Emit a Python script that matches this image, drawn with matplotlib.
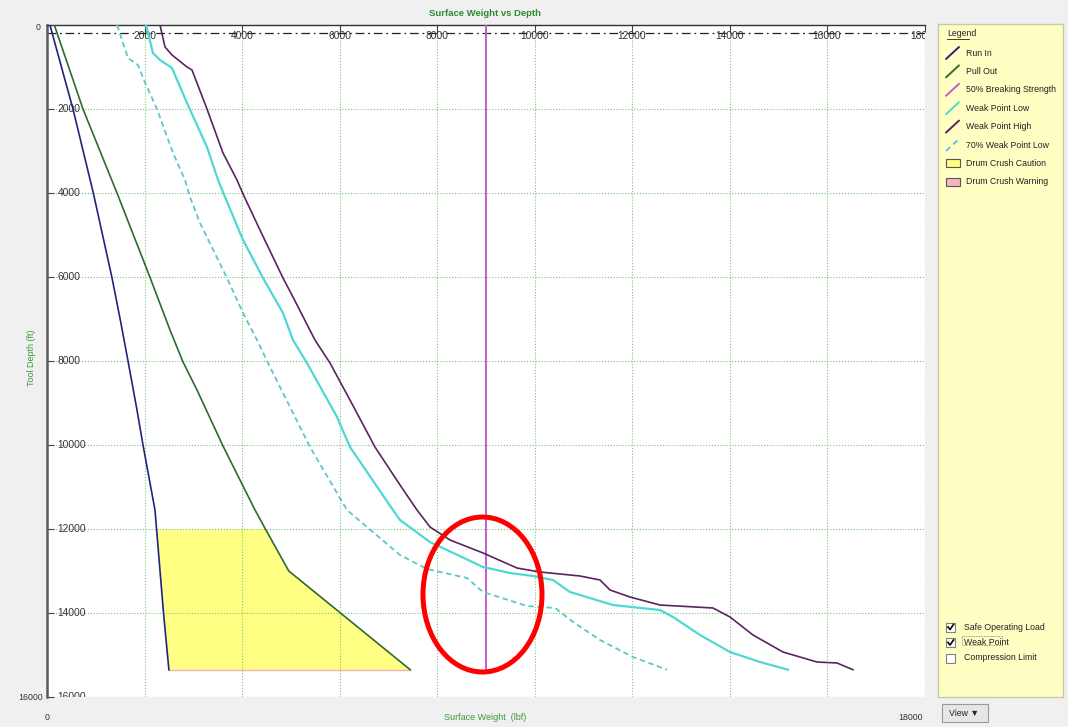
import numpy as np
import matplotlib
matplotlib.use('Agg')
import matplotlib.pyplot as plt
from matplotlib.patches import Rectangle, Ellipse

W, H = 1068, 727

# tool depth (ft) / surface weight (lbf)
run_in_depth = [0, 2000, 4000, 6000, 7000, 8000, 9167, 10000, 11548, 14000, 15350]
run_in_load = [60, 533, 950, 1330, 1500, 1662, 1846, 1969, 2215, 2390, 2500]

pull_out_depth = [0, 2000, 4000, 6000, 7262, 8024, 8690, 10024, 11548, 12000, 13000, 15350]
pull_out_load = [150, 738, 1436, 2110, 2523, 2790, 3077, 3610, 4267, 4480, 4960, 7450]

wp_low_depth = [0, 667, 833, 1024, 1857, 2905, 3690, 4095, 5119, 6024, 6857, 7500, 8048, 9333,
                10048, 11548, 11786, 12310, 12905, 13048, 13119, 13214, 13500, 13810, 13929,
                14095, 14524, 14929, 15167, 15350]
wp_low_load = [2031, 2174, 2318, 2564, 2872, 3282, 3508, 3651, 4021, 4431, 4841, 5046, 5333, 5949,
               6215, 7097, 7241, 7856, 8944, 9497, 9969, 10379, 10728, 11610, 12574,
               12841, 13395, 14010, 14626, 15200]

wp_high_depth = [0, 524, 714, 1000, 1071, 2000, 3048, 3690, 4024, 4881, 6024, 6476, 7500, 8048,
                 8929, 10048, 10952, 11548, 11952, 12262, 12571, 12929, 13024, 13119, 13214,
                 13452, 13619, 13810, 13881, 14095, 14524, 14929, 15167, 15190, 15350]
wp_high_load = [2318, 2421, 2564, 2872, 2974, 3282, 3610, 3897, 4021, 4369, 4841, 5046, 5497, 5805,
                6215, 6728, 7241, 7590, 7856, 8267, 8944, 9641, 10113, 10933, 11344,
                11549, 11959, 12574, 13662, 14010, 14482, 15097, 15795, 16205, 16533]

wp70_depth = [0, 786, 952, 1262, 2000, 3048, 3690, 4095, 4714, 6024, 6857, 7500, 8048, 9095,
              10048, 11548, 12619, 12952, 13167, 13500, 13833, 13881, 14214, 14643, 15048, 15350]
wp70_load = [1436, 1662, 1867, 1969, 2256, 2585, 2831, 2933, 3138, 3692, 4021, 4308, 4533, 4985,
             5395, 6154, 7241, 7795, 8615, 8944, 9846, 10421, 10790, 11344, 12021, 12718]

breaking_load = 9000
breaking_depth = [0, 15350]
caution_top = 12000
tool_bottom = 15350

x_ticks = list(range(2000, 18001, 2000))
y_ticks = list(range(2000, 16001, 2000))

legend_names = ['Run In', 'Pull Out', '50% Breaking Strength', 'Weak Point Low',
                'Weak Point High', '70% Weak Point Low', 'Drum Crush Caution', 'Drum Crush Warning']
option_names = ['Safe Operating Load', 'Weak Point', 'Compression Limit']
option_checked = [True, True, False]

# circled area (annotation)
ring_center = (8933, 13560)
ring_size = (2441, 3690)

c_run = '#23237f'
c_pull = '#2e6b2e'
c_break = '#c45ccf'
c_low = '#4fd8d2'
c_high = '#5b2360'
c_70 = '#5ec6cc'
c_text = '#3a9a3a'

plt.rcParams['font.family'] = ['Liberation Sans', 'DejaVu Sans']
fs = 6.3
fs_tick = 7.4


def fx(px):
    return px / W


def fy(py):
    return 1 - py / H


fig = plt.figure(figsize=(W / 100, H / 100), dpi=100)
fig.patch.set_facecolor('#f0f0f0')

ax = fig.add_axes([fx(47), fy(697), (924.5 - 47) / W, (697 - 25) / H])
ax.set_xlim(0, 18000)
ax.set_ylim(16000, 0)
ax.set_facecolor('white')

# drum crush caution zone between run in and pull out
dd = np.linspace(caution_top, tool_bottom, 60)
ax.fill_betweenx(dd, np.interp(dd, run_in_depth, run_in_load),
                 np.interp(dd, pull_out_depth, pull_out_load),
                 color='#ffff84', lw=0, zorder=1)
ax.plot([run_in_load[-1], pull_out_load[-1]], [tool_bottom, tool_bottom],
        color='#f0b0b8', lw=1, zorder=1.5)

ax.plot(run_in_load, run_in_depth, color=c_run, lw=1.2, zorder=3)
ax.plot(pull_out_load, pull_out_depth, color=c_pull, lw=1.2, zorder=3)
ax.plot([breaking_load, breaking_load], breaking_depth, color=c_break, lw=1.4, zorder=3)
ax.plot(wp_low_load, wp_low_depth, color=c_low, lw=1.6, zorder=3)
ax.plot(wp_high_load, wp_high_depth, color=c_high, lw=1.2, zorder=3)
ax.plot(wp70_load, wp70_depth, color=c_70, lw=1.3, ls=(0, (3, 2)), zorder=3)

# dash-dot surface line near top
ax.axhline(190, color='#222222', lw=0.9, ls=(0, (7, 3, 1.5, 3)), zorder=2)

ax.set_xticks(x_ticks)
ax.set_yticks(y_ticks)
ax.tick_params(direction='in', length=5, width=0.8, color='#444444', top=True, bottom=False,
               right=False, left=True, labelleft=False, labelbottom=False)
ax.grid(True, color='#7cc47c', ls=(0, (1, 1.6)), lw=0.8)
for s in ['right', 'bottom']:
    ax.spines[s].set_visible(False)
ax.spines['left'].set_color('#5a5a5a')
ax.spines['left'].set_linewidth(1.8)
ax.spines['top'].set_color('#333333')
ax.spines['top'].set_linewidth(1.0)

for x in x_ticks:
    ax.text(x, 262, str(x), ha='center', va='center', fontsize=fs_tick, color='#333333',
            clip_on=True, zorder=2.5)
for d in y_ticks:
    ax.text(215, d, str(d), ha='left', va='center', fontsize=fs_tick, color='#333333',
            clip_on=True, zorder=2.5)

ax.add_patch(Ellipse(ring_center, ring_size[0], ring_size[1], fill=False, edgecolor='#ff0000',
                     lw=3.6, zorder=6, clip_on=False))

# outer labels
fig.text(fx(485), fy(13), 'Surface Weight vs Depth', ha='center', va='center', fontsize=6.8,
         fontweight='bold', color='#2e8b2e')
fig.text(fx(41), fy(28), '0', ha='right', va='center', fontsize=fs, color='#333333')
fig.text(fx(43), fy(697), '16000', ha='right', va='center', fontsize=fs, color='#333333')
fig.text(fx(47), fy(718), '0', ha='center', va='center', fontsize=fs, color='#333333')
fig.text(fx(923), fy(718), '18000', ha='right', va='center', fontsize=fs, color='#333333')
fig.text(fx(485), fy(718), 'Surface Weight  (lbf)', ha='center', va='center', fontsize=6.5, color=c_text)
fig.text(fx(31), fy(358), 'Tool Depth (ft)', ha='center', va='center', fontsize=6.5, color=c_text,
         rotation=90)

# legend panel
lg = fig.add_axes([fx(938), fy(697), 125 / W, 673 / H])
lg.set_xlim(0, 125)
lg.set_ylim(673, 0)
lg.set_facecolor('#ffffc4')
lg.set_xticks([])
lg.set_yticks([])
for s in lg.spines.values():
    s.set_color('#c8c8b0')
    s.set_linewidth(1)

lg.text(9, 10, 'Legend', ha='left', va='center', fontsize=fs, color='#222222')
lg.plot([9, 31], [14.5, 14.5], color='#222222', lw=0.6)

line_styles = [(c_run, '-'), (c_pull, '-'), (c_break, '-'), (c_low, '-'), (c_high, '-'), (c_70, (0, (3, 2)))]
for i, name in enumerate(legend_names):
    y = 29 + i * 18.4
    if i < len(line_styles):
        col, ls = line_styles[i]
        lg.plot([8, 21], [y + 6, y - 6], color=col, lw=1.4, ls=ls, solid_capstyle='round')
    else:
        face = '#ffff80' if name.endswith('Caution') else '#f4b4c0'
        lg.add_patch(Rectangle((8, y - 4), 14, 8, facecolor=face, edgecolor='#555555', lw=0.8))
    lg.text(28, y, name, ha='left', va='center', fontsize=fs, color='#222222')

for i, name in enumerate(option_names):
    y = 603 + i * 15.5
    lg.add_patch(Rectangle((8, y - 4.5), 9, 9, facecolor='white', edgecolor='#808080', lw=0.8))
    if option_checked[i]:
        lg.plot([10, 12, 15.5], [y, y + 2.5, y - 2.5], color='#111111', lw=1.3)
    lg.text(26, y, name, ha='left', va='center', fontsize=fs, color='#222222')
lg.add_patch(Rectangle((24, 611.5), 40, 9, fill=False, edgecolor='#777777', lw=0.6, ls=(0, (1, 1))))

# view button
fig.add_artist(Rectangle((fx(942), fy(722)), 46 / W, 18 / H, transform=fig.transFigure,
                         facecolor='#e6e6e6', edgecolor='#9a9a9a', lw=0.8))
fig.text(fx(949), fy(713), 'View \u25bc', ha='left', va='center', fontsize=fs, color='#222222')

fig.savefig('out.png', dpi=100, facecolor=fig.get_facecolor())
